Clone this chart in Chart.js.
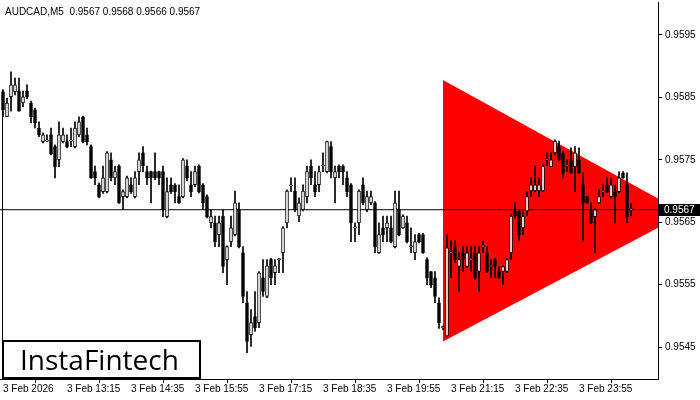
<!DOCTYPE html>
<html>
<head>
<meta charset="utf-8">
<script src="https://cdn.jsdelivr.net/npm/chart.js@4.4.1/dist/chart.umd.min.js"></script>
<style>
  html, body { margin: 0; padding: 0; background: #fff; }
  #wrap { width: 700px; height: 400px; }
</style>
</head>
<body>
<div id="wrap"><canvas id="chart" width="700" height="400"></canvas></div>
<script>
// AUDCAD M5 candles (bar index 0 = 3 Feb 11:55)
const opens = [
  0.95859,0.95819,0.95851,0.95859,0.95860,0.95841,0.95860,0.95841,0.95830,0.95801,
  0.95779,0.95780,0.95790,0.95771,0.95750,0.95779,0.95779,0.95780,0.95771,0.95790,
  0.95819,0.95790,0.95771,0.95731,0.95710,0.95699,0.95699,0.95750,0.95721,0.95740,
  0.95691,0.95691,0.95710,0.95691,0.95731,0.95761,0.95731,0.95731,0.95731,0.95731,
  0.95731,0.95659,0.95710,0.95710,0.95691,0.95691,0.95740,0.95710,0.95710,0.95740,
  0.95710,0.95691,0.95649,0.95649,0.95630,0.95660,0.95590,0.95619,0.95630,0.95670,
  0.95601,0.95521,0.95470,0.95499,0.95489,0.95561,0.95531,0.95590,0.95569,0.95590,
  0.95601,0.95649,0.95708,0.95700,0.95660,0.95670,0.95691,0.95740,0.95710,0.95710,
  0.95740,0.95731,0.95771,0.95721,0.95740,0.95740,0.95721,0.95710,0.95641,0.95649,
  0.95710,0.95670,0.95681,0.95681,0.95601,0.95641,0.95641,0.95641,0.95611,0.95670,
  0.95641,0.95649,0.95611,0.95601,0.95630,0.95630,0.95590,0.95571,0.95561,0.95521,
  0.95481,0.95468,0.95601,0.95611,0.95579,0.95601,0.95579,0.95590,0.95601,0.95571,
  0.95611,0.95601,0.95579,0.95590,0.95571,0.95571,0.95571,0.95601,0.95668,0.95668,
  0.95641,0.95668,0.95700,0.95700,0.95700,0.95700,0.95750,0.95739,0.95761,0.95771,
  0.95761,0.95740,0.95750,0.95739,0.95750,0.95710,0.95691,0.95670,0.95659,0.95681,
  0.95699,0.95710,0.95691,0.95699,0.95699,0.95729,0.95710,0.95670
];
const highs = [
  0.95862,0.95849,0.95891,0.95881,0.95881,0.95860,0.95870,0.95844,0.95833,0.95811,
  0.95793,0.95790,0.95801,0.95774,0.95811,0.95801,0.95790,0.95801,0.95811,0.95819,
  0.95820,0.95801,0.95774,0.95740,0.95713,0.95740,0.95763,0.95761,0.95740,0.95742,
  0.95702,0.95724,0.95721,0.95731,0.95761,0.95771,0.95740,0.95732,0.95761,0.95732,
  0.95740,0.95721,0.95721,0.95712,0.95710,0.95752,0.95750,0.95731,0.95740,0.95742,
  0.95712,0.95694,0.95670,0.95660,0.95660,0.95670,0.95612,0.95660,0.95700,0.95681,
  0.95611,0.95539,0.95510,0.95539,0.95571,0.95590,0.95590,0.95592,0.95590,0.95592,
  0.95643,0.95702,0.95721,0.95721,0.95689,0.95710,0.95740,0.95750,0.95731,0.95740,
  0.95761,0.95780,0.95779,0.95740,0.95742,0.95742,0.95731,0.95712,0.95649,0.95702,
  0.95721,0.95700,0.95700,0.95683,0.95649,0.95660,0.95660,0.95660,0.95700,0.95700,
  0.95662,0.95660,0.95641,0.95630,0.95632,0.95632,0.95593,0.95571,0.95571,0.95529,
  0.95484,0.95630,0.95620,0.95620,0.95601,0.95611,0.95611,0.95611,0.95611,0.95611,
  0.95620,0.95611,0.95590,0.95592,0.95579,0.95580,0.95592,0.95662,0.95681,0.95670,
  0.95668,0.95699,0.95721,0.95740,0.95721,0.95742,0.95761,0.95761,0.95782,0.95780,
  0.95763,0.95750,0.95769,0.95771,0.95769,0.95729,0.95692,0.95681,0.95672,0.95702,
  0.95710,0.95721,0.95721,0.95710,0.95731,0.95731,0.95729,0.95680
];
const lows = [
  0.95819,0.95819,0.95828,0.95854,0.95828,0.95835,0.95848,0.95809,0.95801,0.95787,
  0.95777,0.95779,0.95758,0.95721,0.95739,0.95777,0.95769,0.95771,0.95769,0.95787,
  0.95777,0.95774,0.95720,0.95710,0.95689,0.95696,0.95697,0.95716,0.95710,0.95680,
  0.95670,0.95689,0.95696,0.95689,0.95710,0.95731,0.95710,0.95681,0.95718,0.95710,
  0.95659,0.95657,0.95696,0.95681,0.95680,0.95689,0.95716,0.95691,0.95707,0.95697,
  0.95670,0.95657,0.95641,0.95611,0.95611,0.95569,0.95550,0.95611,0.95628,0.95609,
  0.95521,0.95441,0.95451,0.95475,0.95481,0.95531,0.95529,0.95550,0.95550,0.95569,
  0.95569,0.95641,0.95699,0.95667,0.95651,0.95668,0.95681,0.95710,0.95691,0.95699,
  0.95731,0.95729,0.95721,0.95681,0.95721,0.95710,0.95691,0.95619,0.95619,0.95630,
  0.95678,0.95667,0.95678,0.95601,0.95600,0.95619,0.95619,0.95617,0.95609,0.95628,
  0.95640,0.95617,0.95601,0.95590,0.95617,0.95600,0.95550,0.95545,0.95521,0.95480,
  0.95478,0.95467,0.95561,0.95585,0.95539,0.95571,0.95577,0.95571,0.95558,0.95539,
  0.95601,0.95569,0.95561,0.95561,0.95560,0.95550,0.95569,0.95590,0.95657,0.95620,
  0.95630,0.95660,0.95691,0.95699,0.95691,0.95699,0.95740,0.95739,0.95758,0.95748,
  0.95721,0.95731,0.95728,0.95699,0.95728,0.95619,0.95680,0.95648,0.95601,0.95680,
  0.95691,0.95697,0.95689,0.95649,0.95697,0.95720,0.95649,0.95660
];
const closes = [
  0.95830,0.95841,0.95870,0.95870,0.95828,0.95851,0.95851,0.95819,0.95809,0.95790,
  0.95790,0.95780,0.95760,0.95739,0.95790,0.95790,0.95771,0.95780,0.95801,0.95811,
  0.95779,0.95779,0.95721,0.95721,0.95691,0.95721,0.95761,0.95721,0.95731,0.95681,
  0.95699,0.95721,0.95699,0.95721,0.95750,0.95740,0.95721,0.95721,0.95721,0.95721,
  0.95670,0.95699,0.95699,0.95699,0.95681,0.95750,0.95721,0.95699,0.95731,0.95699,
  0.95681,0.95659,0.95659,0.95619,0.95649,0.95579,0.95611,0.95641,0.95681,0.95611,
  0.95531,0.95459,0.95489,0.95481,0.95569,0.95539,0.95580,0.95561,0.95580,0.95590,
  0.95641,0.95700,0.95710,0.95670,0.95681,0.95700,0.95731,0.95721,0.95699,0.95731,
  0.95740,0.95779,0.95731,0.95731,0.95731,0.95731,0.95699,0.95649,0.95641,0.95700,
  0.95681,0.95691,0.95691,0.95611,0.95630,0.95630,0.95649,0.95619,0.95681,0.95630,
  0.95660,0.95619,0.95611,0.95619,0.95619,0.95601,0.95561,0.95550,0.95531,0.95489,
  0.95481,0.95609,0.95601,0.95590,0.95590,0.95590,0.95601,0.95590,0.95561,0.95601,
  0.95611,0.95571,0.95579,0.95579,0.95561,0.95579,0.95590,0.95660,0.95660,0.95630,
  0.95660,0.95691,0.95710,0.95710,0.95710,0.95740,0.95750,0.95750,0.95780,0.95750,
  0.95729,0.95740,0.95729,0.95761,0.95729,0.95681,0.95681,0.95649,0.95670,0.95691,
  0.95699,0.95699,0.95710,0.95691,0.95721,0.95721,0.95659,0.95670
];

// time axis labels, one every 16 bars
const xTickPos = [0, 16, 32, 48, 64, 80, 96, 112, 128, 144];
const xTickLabels = ["3 Feb 2026", "3 Feb 13:15", "3 Feb 14:35", "3 Feb 15:55", "3 Feb 17:15",
                     "3 Feb 18:35", "3 Feb 19:55", "3 Feb 21:15", "3 Feb 22:35", "3 Feb 23:55"];
const yTicks = [0.9545, 0.9555, 0.9565, 0.9575, 0.9585, 0.9595];

// triangle pattern (left edge at bar 110, apex past the right edge)
const triTop = [{ x: 110, y: 0.95878 }, { x: 170.5, y: 0.95664 }];
const triBottom = [{ x: 110, y: 0.95459 }, { x: 170.5, y: 0.95664 }];

const symbol = "AUDCAD,M5";
const currentPrice = 0.9567;
const lastOHLC = [0.9567, 0.9568, 0.9566, 0.9567];

const X_MIN = -0.75, X_MAX = 163.75;
const Y_MIN = 0.953988, Y_MAX = 0.960028;

const wickData = lows.map((l, i) => ({ x: i, y: [l, highs[i]] }));
const bodyData = opens.map((o, i) => ({ x: i, y: [o, closes[i]] }));
const bodyColors = opens.map((o, i) => closes[i] >= o ? "#ffffff" : "#000000");

const overlayPlugin = {
  id: "overlay",
  afterDraw(chart) {
    const ctx = chart.ctx;
    const area = chart.chartArea;
    const y = chart.scales.y;
    ctx.save();

    // left frame edge
    ctx.strokeStyle = "#000";
    ctx.lineWidth = 1;
    ctx.beginPath();
    ctx.moveTo(2.5, y.getPixelForValue(highs[0]));
    ctx.lineTo(2.5, area.bottom);
    ctx.stroke();

    // header
    ctx.fillStyle = "#000";
    ctx.font = "10px 'Liberation Sans', Arial, sans-serif";
    ctx.textBaseline = "middle";
    ctx.textAlign = "left";
    ctx.fillText(symbol + "  " + lastOHLC.map(v => v.toFixed(4)).join(" "), 5, 12);

    // current price tag
    const py = Math.round(y.getPixelForValue(currentPrice));
    ctx.fillStyle = "#000";
    ctx.fillRect(area.right + 1, py - 6, 700 - area.right - 1, 12);
    ctx.fillStyle = "#fff";
    ctx.fillText(currentPrice.toFixed(4), area.right + 6, py + 0.5);

    // logo box
    ctx.fillStyle = "#fff";
    ctx.fillRect(3, 341, 197, 37);
    ctx.strokeStyle = "#000";
    ctx.lineWidth = 2;
    ctx.strokeRect(3, 341, 197, 37);
    ctx.fillStyle = "#000";
    ctx.font = "28px 'Open Sans', 'Liberation Sans', sans-serif";
    ctx.textBaseline = "alphabetic";
    ctx.fillText("InstaFintech", 20, 370);
    ctx.restore();
  }
};

const ctx = document.getElementById("chart").getContext("2d");
new Chart(ctx, {
  type: "bar",
  data: {
    datasets: [
      {
        type: "line",
        data: triTop,
        borderWidth: 0,
        pointRadius: 0,
        fill: false,
        order: 10
      },
      {
        type: "line",
        data: triBottom,
        borderWidth: 0,
        pointRadius: 0,
        fill: "-1",
        backgroundColor: "#ff0000",
        order: 9
      },
      {
        type: "line",
        data: [{ x: X_MIN, y: currentPrice }, { x: X_MAX, y: currentPrice }],
        borderColor: "#000",
        borderWidth: 1,
        pointRadius: 0,
        fill: false,
        order: 5
      },
      {
        data: wickData,
        backgroundColor: "#000",
        barThickness: 1,
        grouped: false,
        borderSkipped: false,
        order: 2
      },
      {
        data: bodyData,
        backgroundColor: bodyColors,
        borderColor: "#000",
        borderWidth: 1,
        barThickness: 3,
        minBarLength: 1,
        grouped: false,
        borderSkipped: false,
        order: 1
      }
    ]
  },
  options: {
    responsive: false,
    animation: false,
    events: [],
    layout: { autoPadding: false, padding: { left: 0, top: 2, right: 0, bottom: 0 } },
    plugins: {
      legend: { display: false },
      tooltip: { enabled: false }
    },
    scales: {
      x: {
        type: "linear",
        offset: false,
        min: X_MIN,
        max: X_MAX,
        afterBuildTicks: scale => { scale.ticks = xTickPos.map(v => ({ value: v })); },
        afterFit: scale => {
          scale.height = 21;
          scale.paddingLeft = 0;
          scale.paddingRight = 0;
        },
        grid: { drawOnChartArea: false, drawTicks: true, tickLength: 4, color: "#000" },
        border: { display: true, color: "#000", width: 1 },
        ticks: {
          autoSkip: false,
          maxRotation: 0,
          align: "start",
          padding: 0,
          color: "#000",
          font: { family: "'Liberation Sans', Arial, sans-serif", size: 10 },
          callback: (value, index) => xTickLabels[index]
        }
      },
      y: {
        position: "right",
        min: Y_MIN,
        max: Y_MAX,
        afterBuildTicks: scale => { scale.ticks = yTicks.map(v => ({ value: v })); },
        afterFit: scale => {
          scale.width = 42;
          scale.paddingTop = 0;
          scale.paddingBottom = 0;
        },
        grid: { drawOnChartArea: false, drawTicks: true, tickLength: 4, color: "#000" },
        border: { display: true, color: "#000", width: 1 },
        ticks: {
          padding: 3,
          color: "#000",
          font: { family: "'Liberation Sans', Arial, sans-serif", size: 10 },
          callback: value => value.toFixed(4)
        }
      }
    }
  },
  plugins: [overlayPlugin]
});
</script>
</body>
</html>
